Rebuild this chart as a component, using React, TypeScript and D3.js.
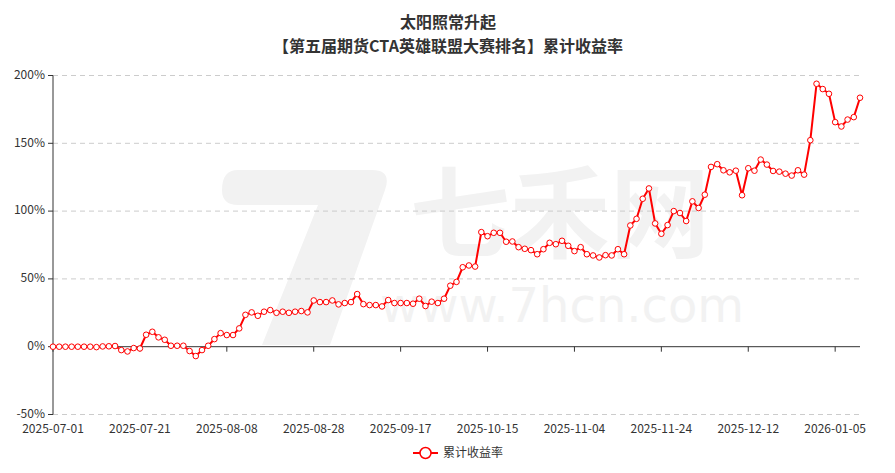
import React from "react";
import * as d3 from "d3";

const dates: string[] = [
  "2025-07-01","2025-07-02","2025-07-03","2025-07-04","2025-07-07","2025-07-08","2025-07-09","2025-07-10","2025-07-11",
  "2025-07-14","2025-07-15","2025-07-16","2025-07-17","2025-07-18","2025-07-21","2025-07-22","2025-07-23","2025-07-24","2025-07-25",
  "2025-07-28","2025-07-29","2025-07-30","2025-07-31","2025-08-01","2025-08-04","2025-08-05","2025-08-06","2025-08-07","2025-08-08",
  "2025-08-11","2025-08-12","2025-08-13","2025-08-14","2025-08-15","2025-08-18","2025-08-19","2025-08-20","2025-08-21","2025-08-22",
  "2025-08-25","2025-08-26","2025-08-27","2025-08-28","2025-08-29","2025-09-01","2025-09-02","2025-09-03","2025-09-04","2025-09-05",
  "2025-09-08","2025-09-09","2025-09-10","2025-09-11","2025-09-12","2025-09-15","2025-09-16","2025-09-17","2025-09-18","2025-09-19",
  "2025-09-22","2025-09-23","2025-09-24","2025-09-25","2025-09-26","2025-09-29","2025-09-30","2025-10-09","2025-10-10",
  "2025-10-13","2025-10-14","2025-10-15","2025-10-16","2025-10-17","2025-10-20","2025-10-21","2025-10-22","2025-10-23","2025-10-24",
  "2025-10-27","2025-10-28","2025-10-29","2025-10-30","2025-10-31","2025-11-03","2025-11-04","2025-11-05","2025-11-06","2025-11-07",
  "2025-11-10","2025-11-11","2025-11-12","2025-11-13","2025-11-14","2025-11-17","2025-11-18","2025-11-19","2025-11-20","2025-11-21",
  "2025-11-24","2025-11-25","2025-11-26","2025-11-27","2025-11-28","2025-12-01","2025-12-02","2025-12-03","2025-12-04","2025-12-05",
  "2025-12-08","2025-12-09","2025-12-10","2025-12-11","2025-12-12","2025-12-15","2025-12-16","2025-12-17","2025-12-18","2025-12-19",
  "2025-12-22","2025-12-23","2025-12-24","2025-12-25","2025-12-26","2025-12-29","2025-12-30","2025-12-31",
  "2026-01-05","2026-01-06","2026-01-07","2026-01-08","2026-01-09"
];

const values: number[] = [
  0,0,0,0,0,0,0,-0.3,0.2,0.3,0.5,-2.5,-3.5,-1,-1.3,8.8,11,6.9,5.1,0.7,0.7,0.7,-3.2,-6.9,-2.5,0.7,5.6,10,8.6,8.6,13.5,23.5,25.3,
  22.8,25.8,27,25,25.8,25,25.8,26.3,25.3,34.1,32.9,32.9,34.1,31.2,32.2,32.9,38.8,31.4,30.7,30.7,29.7,34.4,32.2,32.2,32.2,31.7,35.4,30,33.2,32.2,35.4,45,47.8,
  58.6,59.9,59.1,84.5,81.5,84,84,77.4,77.6,73.4,72.2,71.2,68.2,71.9,76.6,75.6,78.1,74.4,70.5,73.4,68.2,67.3,65.8,67.5,67.3,71.9,68.2,89.4,94.3,109.1,116.7,90.9,83.3,
  89.7,100,98.6,92.7,107.2,102.3,112.1,132.6,134.6,130.1,128.6,129.8,111.7,131.6,129.8,138,134.3,129.6,129.1,127.6,126.2,130.1,126.9,152.3,193.9,190,186.5,165.6,162.4,167.5,169.3,183.6
];

const xTickLabels: string[] = [
  "2025-07-01","2025-07-21","2025-08-08","2025-08-28","2025-09-17",
  "2025-10-15","2025-11-04","2025-11-24","2025-12-12","2026-01-05"
];

const yTicks: number[] = [-50, 0, 50, 100, 150, 200];

const titleLines: string[] = ["太阳照常升起", "【第五届期货CTA英雄联盟大赛排名】累计收益率"];
const seriesName = "累计收益率";

const W = 895, H = 473;
const left = 53, right = 860, top = 75.5, bottom = 414.5;
const FONT = "'Noto Sans CJK SC', 'Noto Sans', sans-serif";
const RED = "#ff0000";

export default function App() {
  const x = d3.scalePoint<string>().domain(dates).range([left, right]);
  const y = d3.scaleLinear().domain([-50, 200]).range([bottom, top]);
  const line = d3.line<number>().x((_, i) => x(dates[i]) as number).y(d => y(d));
  const y0 = y(0);

  return (
    <svg width={W} height={H} style={{ position: "absolute", left: 0, top: 0, background: "#fff" }} fontFamily={FONT}>
      {/* watermark */}
      <g fill="#f2f2f2">
        <path d="M238,170 L372,170 Q392,170 385,190 L330,345 L262,345 L318,205 L238,205 Q222,205 222,190 Q222,170 238,170 Z" />
        <text x={560} y={250} fontSize={100} textAnchor="middle" fontWeight="bold">七禾网</text>
        <text x={562} y={322} fontSize={48} textAnchor="middle" fontFamily="'DejaVu Sans', sans-serif">www.7hcn.com</text>
      </g>

      {/* title */}
      <text x={448} y={28} textAnchor="middle" fontSize={16} fontWeight="bold" fill="#333">{titleLines[0]}</text>
      <text x={448} y={52} textAnchor="middle" fontSize={16} fontWeight="bold" fill="#333">{titleLines[1]}</text>

      {/* grid */}
      {yTicks.filter(t => t !== 0).map(t => (
        <line key={t} x1={left} x2={right} y1={y(t)} y2={y(t)} stroke="#ccc" strokeDasharray="5,4" />
      ))}

      {/* y axis */}
      <line x1={left} x2={left} y1={top} y2={bottom} stroke="#333" />
      {yTicks.map(t => (
        <g key={t}>
          <line x1={left - 5} x2={left} y1={y(t)} y2={y(t)} stroke="#333" />
          <text x={left - 8} y={y(t) - 1} dy="0.35em" textAnchor="end" fontSize={12} fill="#333">{t}%</text>
        </g>
      ))}

      {/* x axis at zero */}
      <line x1={left} x2={right} y1={y0} y2={y0} stroke="#333" />
      {xTickLabels.map(d => (
        <g key={d}>
          <line x1={x(d)} x2={x(d)} y1={y0} y2={y0 + 5} stroke="#333" />
          <text x={x(d)} y={433} textAnchor="middle" fontSize={12} fill="#333">{d}</text>
        </g>
      ))}

      {/* series */}
      <path d={line(values) || ""} fill="none" stroke={RED} strokeWidth={2} strokeLinejoin="round" />
      {values.map((v, i) => (
        <circle key={i} cx={x(dates[i])} cy={y(v)} r={2.8} fill="#fff" stroke={RED} strokeWidth={1} />
      ))}

      {/* legend */}
      <g>
        <line x1={413} x2={438} y1={453} y2={453} stroke={RED} strokeWidth={2} />
        <circle cx={425.5} cy={453} r={5.5} fill="#fff" stroke={RED} strokeWidth={1.5} />
        <text x={443} y={453} dy="0.35em" fontSize={12} fill="#333">{seriesName}</text>
      </g>
    </svg>
  );
}
